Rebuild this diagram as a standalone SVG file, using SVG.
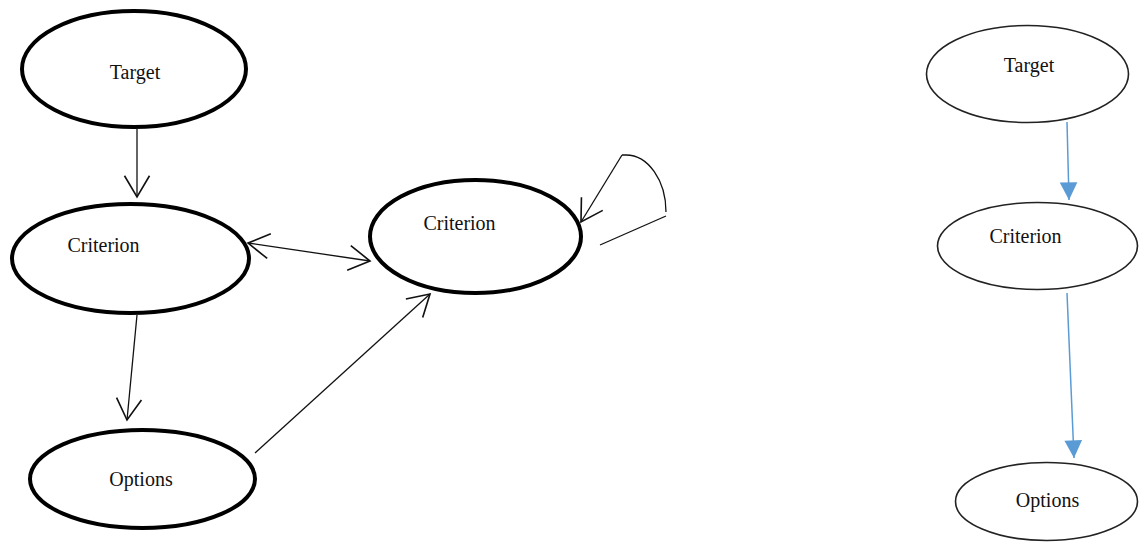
<svg xmlns="http://www.w3.org/2000/svg" width="1139" height="545" viewBox="0 0 1139 545">
<style>
.thick{fill:none;stroke:#000;stroke-width:4}
.thin{fill:none;stroke:#222;stroke-width:1.6}
.lbl{font-family:"Liberation Serif","DejaVu Serif","Times New Roman",serif;font-size:20px;fill:#111;text-anchor:middle}
.conn{fill:none;stroke:#111;stroke-width:1.3}
.blue{fill:none;stroke:#5B9BD5;stroke-width:1.5}
</style>
<defs>
<marker id="open" markerUnits="userSpaceOnUse" markerWidth="30" markerHeight="30" viewBox="-20 -12 22 24" refX="0" refY="0" orient="auto-start-reverse" overflow="visible">
<path d="M -17 -10 L 0 0 L -17 10" fill="none" stroke="#111" stroke-width="1.3"/>
</marker>
<marker id="tri" markerUnits="userSpaceOnUse" markerWidth="20" markerHeight="20" viewBox="-16 -8 17 16" refX="0" refY="0" orient="auto" overflow="visible">
<path d="M -15 -7.5 L 0 0 L -15 7.5 Z" fill="#5B9BD5"/>
</marker>
</defs>
<rect width="1139" height="545" fill="#fff"/>
<g id="connectors">
<line class="conn" x1="137" y1="129" x2="137" y2="197" marker-end="url(#open)"/>
<line class="conn" x1="137" y1="315" x2="127" y2="420" marker-end="url(#open)"/>
<line class="conn" x1="248" y1="243" x2="370" y2="261" marker-start="url(#open)" marker-end="url(#open)"/>
<line class="conn" x1="255" y1="453" x2="430" y2="294" marker-end="url(#open)"/>
<line class="conn" x1="622" y1="155" x2="581" y2="222" marker-end="url(#open)"/>
<path class="conn" d="M 622 155 L 626 155 A 40 57 0 0 1 666 212"/>
<line class="conn" x1="666" y1="216" x2="600" y2="245"/>
<line class="blue" x1="1067" y1="122" x2="1069" y2="200" marker-end="url(#tri)"/>
<line class="blue" x1="1067" y1="293" x2="1074" y2="458" marker-end="url(#tri)"/>
</g>
<g id="target-left">
<ellipse class="thick" cx="134" cy="69" rx="112" ry="58"/>
<text class="lbl" x="135" y="79">Target</text>
</g>
<g id="criterion-left">
<ellipse class="thick" cx="130.5" cy="258.5" rx="118.5" ry="54.5"/>
<text class="lbl" x="103.5" y="252">Criterion</text>
</g>
<g id="options-left">
<ellipse class="thick" cx="142.5" cy="479" rx="112.5" ry="49"/>
<text class="lbl" x="141" y="486">Options</text>
</g>
<g id="criterion-middle">
<ellipse class="thick" cx="475.5" cy="236.5" rx="105.5" ry="56.5"/>
<text class="lbl" x="459.5" y="230">Criterion</text>
</g>
<g id="target-right">
<ellipse class="thin" cx="1027.5" cy="74" rx="101" ry="48.5"/>
<text class="lbl" x="1029" y="72">Target</text>
</g>
<g id="criterion-right">
<ellipse class="thin" cx="1037.5" cy="246" rx="100" ry="43.5"/>
<text class="lbl" x="1025.5" y="243">Criterion</text>
</g>
<g id="options-right">
<ellipse class="thin" cx="1046.5" cy="501.5" rx="91" ry="39"/>
<text class="lbl" x="1047.5" y="507">Options</text>
</g>
</svg>
